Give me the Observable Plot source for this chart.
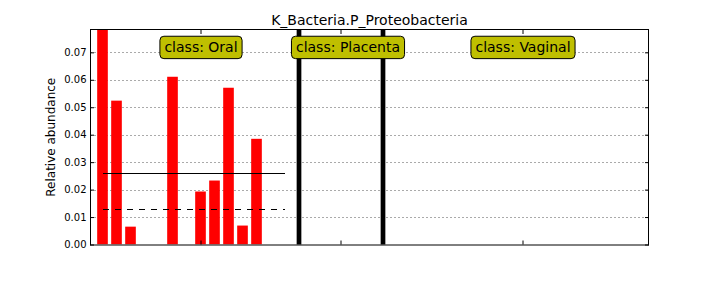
<!DOCTYPE html>
<html><head><meta charset="utf-8">
<script src="https://cdn.jsdelivr.net/npm/d3@7"></script>
<script src="https://cdn.jsdelivr.net/npm/@observablehq/plot@0.6"></script>
<style>body{margin:0;background:#fff} svg{display:block}</style>
</head><body><div id="chart"></div>
<script>
const title = "K_Bacteria.P_Proteobacteria";
const yLabel = "Relative abundance";
const classNames = ["Oral", "Placenta", "Vaginal"];
const oralValues = [0.100, 0.0524, 0.0065, 0, 0, 0.0611, 0, 0.0193, 0.0233, 0.0571, 0.0069, 0.0385, 0, 0];
const placentaValues = [0, 0, 0, 0, 0, 0];
const vaginalValues = [0, 0, 0, 0, 0, 0, 0, 0, 0, 0, 0, 0, 0, 0, 0, 0, 0, 0, 0, 0];
const yTicks = [0, 0.01, 0.02, 0.03, 0.04, 0.05, 0.06, 0.07];

const seriesByClass = [oralValues, placentaValues, vaginalValues];
const samples = [];
const stats = [];
let idx = 0;
seriesByClass.forEach((vals, c) => {
  const start = idx;
  vals.forEach(v => samples.push({i: idx++, value: v, cls: classNames[c]}));
  stats.push({
    name: classNames[c], start, end: idx - 1,
    tick: start + vals.length / 2,
    mean: d3.mean(vals), median: d3.median(vals)
  });
});

const chart = Plot.plot({
  width: 720, height: 288,
  marginLeft: 90, marginRight: 72, marginTop: 29, marginBottom: 43.5,
  style: {fontFamily: "'DejaVu Sans', sans-serif", fontSize: "10px", color: "black", background: "white"},
  x: {type: "linear", domain: [-0.893, 38.964]},
  y: {domain: [0, 0.0785]},
  marks: [
    Plot.gridY(yTicks.filter(d => d > 0), {stroke: "#aaa", strokeOpacity: 1, strokeDasharray: "2,2", shapeRendering: "crispEdges"}),
    Plot.rectY(samples, {x1: d => d.i - 0.38, x2: d => d.i + 0.38, y1: 0, y2: "value", fill: "red", clip: true}),
    Plot.ruleY(stats.filter(d => d.mean > 0), {y: "mean", x1: "start", x2: "end", stroke: "black", strokeWidth: 1, shapeRendering: "crispEdges"}),
    Plot.ruleY(stats.filter(d => d.median > 0), {y: "median", x1: "start", x2: "end", stroke: "black", strokeWidth: 1, strokeDasharray: "6,6", shapeRendering: "crispEdges"}),
    Plot.ruleX(stats.slice(1), {x: "start", stroke: "black", strokeWidth: 4.7}),
    Plot.frame({stroke: "black"}),
    Plot.axisY(yTicks, {anchor: "left", tickSize: -4, tickPadding: 8, tickFormat: d3.format(".2f"), label: null, fontSize: 10}),
    Plot.axisY(yTicks, {anchor: "right", tickSize: -4, tickFormat: () => "", label: null}),
    Plot.axisX(stats.map(d => d.tick), {anchor: "bottom", tickSize: -4, tickFormat: () => "", label: null}),
    Plot.axisX(stats.map(d => d.tick), {anchor: "top", tickSize: -4, tickFormat: () => "", label: null}),
    Plot.text([title], {frameAnchor: "top", dy: -5, lineAnchor: "bottom", fontSize: 14, fill: "black"}),
    Plot.text([yLabel], {frameAnchor: "left", dx: -39, rotate: -90, textAnchor: "middle", fontSize: 12, fill: "black"}),
    Plot.text(stats, {x: d => d.tick + (d.name === "Placenta" ? 0.5 : 0), frameAnchor: "top", dy: 13,
      text: d => "class: " + d.name, fontSize: 14, fill: "black", className: "cls-label"})
  ]
});
document.getElementById("chart").append(chart);
const svg = chart.tagName.toLowerCase() === "svg" ? chart : chart.querySelector("svg");
svg.querySelectorAll("g.cls-label text").forEach(t => {
  const b = t.getBBox();
  const r = document.createElementNS("http://www.w3.org/2000/svg", "rect");
  r.setAttribute("x", b.x - 4.5);
  r.setAttribute("y", b.y - 3.2);
  r.setAttribute("width", b.width + 9);
  r.setAttribute("height", b.height + 6.4);
  r.setAttribute("rx", 4);
  r.setAttribute("fill", "#bfbf00");
  r.setAttribute("stroke", "black");
  r.setAttribute("stroke-width", 1);
  const tr = t.getAttribute("transform");
  if (tr) r.setAttribute("transform", tr);
  t.parentNode.insertBefore(r, t);
});
</script>
</body></html>
